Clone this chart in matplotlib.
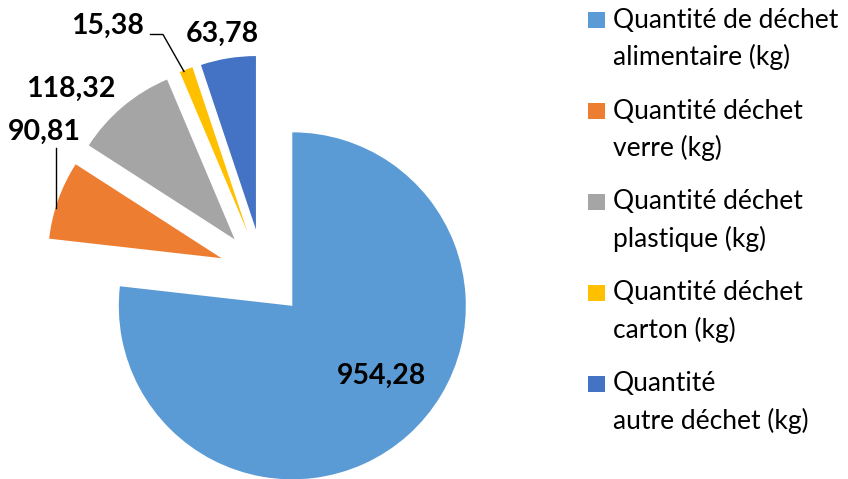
import matplotlib.pyplot as plt
from matplotlib.patches import Rectangle

plt.rcParams['font.family'] = ['Lato', 'DejaVu Sans']

# waste quantities (kg)
labels = ["Quantité de déchet\nalimentaire (kg)",
          "Quantité déchet\nverre (kg)",
          "Quantité déchet\nplastique (kg)",
          "Quantité déchet\ncarton (kg)",
          "Quantité\nautre déchet (kg)"]
values = [954.28, 90.81, 118.32, 15.38, 63.78]
colors = ["#5B9BD5", "#ED7D31", "#A5A5A5", "#FFC000", "#4472C4"]

W, H = 848, 479
fig = plt.figure(figsize=(W / 100, H / 100), dpi=100)
ax = fig.add_axes([0, 0, 1, 1])

# axes in pixel units, y measured upward
cx, cy, r = 263, H - 273, 173.5
wedges, _ = ax.pie(values, colors=colors, startangle=90, counterclock=False,
                   explode=[44] * len(values), radius=r, center=(cx, cy),
                   wedgeprops=dict(linewidth=0))
ax.set_xlim(0, W)
ax.set_ylim(0, H)
ax.set_aspect('equal')
ax.axis('off')

def fmt(v):
    return f"{v:.2f}".replace('.', ',')

# value labels (x, y from the top edge)
label_pos = [(381, 376), (44, 132), (71, 89), (108, 26), (222, 34)]
for v, (x, y) in zip(values, label_pos):
    ax.text(x, H - y, fmt(v), ha='center', va='center',
            fontsize=20.5, fontweight='bold', color='black')

# leader lines for the two small slices
ax.plot([150.5, 163, 184], [H - 34.5, H - 34.5, H - 71.5], color='black', lw=1)
ax.plot([56, 56], [H - 148, H - 208], color='black', lw=1)

# legend
for i, (lab, c) in enumerate(zip(labels, colors)):
    top = 12.3 + i * 90.8
    ax.add_patch(Rectangle((588, H - top - 16), 17, 16, color=c, lw=0))
    first, second = lab.split('\n')
    ax.text(613, H - top - 8, first, ha='left', va='center', fontsize=19)
    ax.text(613, H - top - 8 - 37, second, ha='left', va='center', fontsize=19)

fig.savefig('out.png', dpi=100)
